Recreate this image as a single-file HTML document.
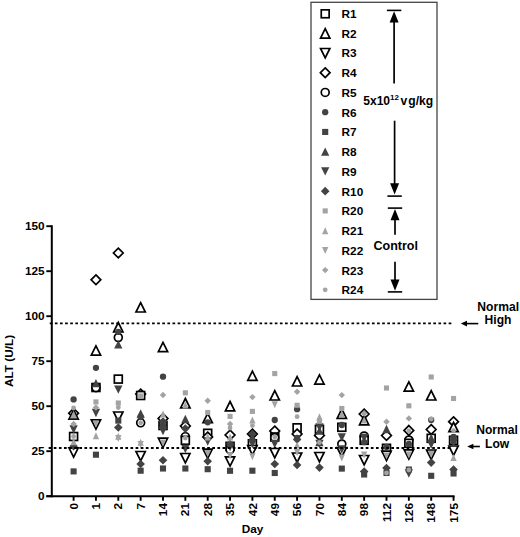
<!DOCTYPE html>
<html><head><meta charset="utf-8"><title>ALT chart</title>
<style>html,body{margin:0;padding:0;background:#fff;width:520px;height:537px;overflow:hidden}svg{display:block}</style>
</head><body>
<svg width="520" height="537" viewBox="0 0 520 537">
<style>
.t{font-family:"Liberation Sans",sans-serif;font-weight:bold;font-size:11.8px;fill:#000}
.t3{font-family:"Liberation Sans",sans-serif;font-weight:bold;font-size:12.1px;fill:#000}
.t2{font-family:"Liberation Sans",sans-serif;font-weight:bold;font-size:12.1px;fill:#000}
</style>
<rect width="520" height="537" fill="#fff"/>
<line x1="51.8" y1="225.2" x2="51.8" y2="497.2" stroke="#000" stroke-width="2"/>
<line x1="46.3" y1="496.2" x2="454.6" y2="496.2" stroke="#000" stroke-width="2"/>
<line x1="46.3" y1="496.2" x2="51.8" y2="496.2" stroke="#000" stroke-width="1.9"/>
<text x="44.6" y="500.3" text-anchor="end" class="t">0</text>
<line x1="46.3" y1="451.2" x2="51.8" y2="451.2" stroke="#000" stroke-width="1.9"/>
<text x="44.6" y="455.3" text-anchor="end" class="t">25</text>
<line x1="46.3" y1="406.2" x2="51.8" y2="406.2" stroke="#000" stroke-width="1.9"/>
<text x="44.6" y="410.3" text-anchor="end" class="t">50</text>
<line x1="46.3" y1="361.2" x2="51.8" y2="361.2" stroke="#000" stroke-width="1.9"/>
<text x="44.6" y="365.3" text-anchor="end" class="t">75</text>
<line x1="46.3" y1="316.2" x2="51.8" y2="316.2" stroke="#000" stroke-width="1.9"/>
<text x="44.6" y="320.3" text-anchor="end" class="t">100</text>
<line x1="46.3" y1="271.2" x2="51.8" y2="271.2" stroke="#000" stroke-width="1.9"/>
<text x="44.6" y="275.3" text-anchor="end" class="t">125</text>
<line x1="46.3" y1="226.2" x2="51.8" y2="226.2" stroke="#000" stroke-width="1.9"/>
<text x="44.6" y="230.3" text-anchor="end" class="t">150</text>
<line x1="73.6" y1="496.2" x2="73.6" y2="500.8" stroke="#000" stroke-width="1.9"/>
<text transform="translate(77.7 503) rotate(-90)" text-anchor="end" class="t">0</text>
<line x1="95.95" y1="496.2" x2="95.95" y2="500.8" stroke="#000" stroke-width="1.9"/>
<text transform="translate(100.05 503) rotate(-90)" text-anchor="end" class="t">1</text>
<line x1="118.3" y1="496.2" x2="118.3" y2="500.8" stroke="#000" stroke-width="1.9"/>
<text transform="translate(122.4 503) rotate(-90)" text-anchor="end" class="t">2</text>
<line x1="140.65" y1="496.2" x2="140.65" y2="500.8" stroke="#000" stroke-width="1.9"/>
<text transform="translate(144.75 503) rotate(-90)" text-anchor="end" class="t">7</text>
<line x1="163" y1="496.2" x2="163" y2="500.8" stroke="#000" stroke-width="1.9"/>
<text transform="translate(167.1 503) rotate(-90)" text-anchor="end" class="t">14</text>
<line x1="185.35" y1="496.2" x2="185.35" y2="500.8" stroke="#000" stroke-width="1.9"/>
<text transform="translate(189.45 503) rotate(-90)" text-anchor="end" class="t">21</text>
<line x1="207.7" y1="496.2" x2="207.7" y2="500.8" stroke="#000" stroke-width="1.9"/>
<text transform="translate(211.8 503) rotate(-90)" text-anchor="end" class="t">28</text>
<line x1="230.05" y1="496.2" x2="230.05" y2="500.8" stroke="#000" stroke-width="1.9"/>
<text transform="translate(234.15 503) rotate(-90)" text-anchor="end" class="t">35</text>
<line x1="252.4" y1="496.2" x2="252.4" y2="500.8" stroke="#000" stroke-width="1.9"/>
<text transform="translate(256.5 503) rotate(-90)" text-anchor="end" class="t">42</text>
<line x1="274.75" y1="496.2" x2="274.75" y2="500.8" stroke="#000" stroke-width="1.9"/>
<text transform="translate(278.85 503) rotate(-90)" text-anchor="end" class="t">49</text>
<line x1="297.1" y1="496.2" x2="297.1" y2="500.8" stroke="#000" stroke-width="1.9"/>
<text transform="translate(301.2 503) rotate(-90)" text-anchor="end" class="t">56</text>
<line x1="319.45" y1="496.2" x2="319.45" y2="500.8" stroke="#000" stroke-width="1.9"/>
<text transform="translate(323.55 503) rotate(-90)" text-anchor="end" class="t">70</text>
<line x1="341.8" y1="496.2" x2="341.8" y2="500.8" stroke="#000" stroke-width="1.9"/>
<text transform="translate(345.9 503) rotate(-90)" text-anchor="end" class="t">84</text>
<line x1="364.15" y1="496.2" x2="364.15" y2="500.8" stroke="#000" stroke-width="1.9"/>
<text transform="translate(368.25 503) rotate(-90)" text-anchor="end" class="t">98</text>
<line x1="386.5" y1="496.2" x2="386.5" y2="500.8" stroke="#000" stroke-width="1.9"/>
<text transform="translate(390.6 503) rotate(-90)" text-anchor="end" class="t">112</text>
<line x1="408.85" y1="496.2" x2="408.85" y2="500.8" stroke="#000" stroke-width="1.9"/>
<text transform="translate(412.95 503) rotate(-90)" text-anchor="end" class="t">126</text>
<line x1="431.2" y1="496.2" x2="431.2" y2="500.8" stroke="#000" stroke-width="1.9"/>
<text transform="translate(435.3 503) rotate(-90)" text-anchor="end" class="t">148</text>
<line x1="453.55" y1="496.2" x2="453.55" y2="500.8" stroke="#000" stroke-width="1.9"/>
<text transform="translate(457.65 503) rotate(-90)" text-anchor="end" class="t">175</text>
<text x="252.5" y="533.2" text-anchor="middle" class="t">Day</text>
<text transform="translate(12.7 361) rotate(-90)" text-anchor="middle" class="t">ALT (U/L)</text>
<path d="M73.6 408.35L78.45 413.2L73.6 418.05L68.75 413.2Z" fill="#fff" stroke="#000" stroke-width="1.7"/>
<path d="M73.6 409.8L78.25 419.1L68.95 419.1Z" fill="#fff" stroke="#000" stroke-width="1.7" stroke-linejoin="miter"/>
<rect x="69.65" y="432.55" width="7.9" height="7.9" fill="#fff" stroke="#000" stroke-width="1.7"/>
<path d="M73.6 457.2L78.25 447.9L68.95 447.9Z" fill="#fff" stroke="#000" stroke-width="1.7"/>
<path d="M95.95 274.95L100.8 279.8L95.95 284.65L91.1 279.8Z" fill="#fff" stroke="#000" stroke-width="1.7"/>
<path d="M95.95 345.8L100.6 355.1L91.3 355.1Z" fill="#fff" stroke="#000" stroke-width="1.7" stroke-linejoin="miter"/>
<rect x="92" y="383.55" width="7.9" height="7.9" fill="#fff" stroke="#000" stroke-width="1.7"/>
<circle cx="95.95" cy="387.6" r="3.95" fill="#fff" stroke="#000" stroke-width="1.7"/>
<path d="M95.95 429.1L100.6 419.8L91.3 419.8Z" fill="#fff" stroke="#000" stroke-width="1.7"/>
<path d="M118.3 248.15L123.15 253L118.3 257.85L113.45 253Z" fill="#fff" stroke="#000" stroke-width="1.7"/>
<path d="M118.3 322.5L122.95 331.8L113.65 331.8Z" fill="#fff" stroke="#000" stroke-width="1.7" stroke-linejoin="miter"/>
<circle cx="118.3" cy="337.5" r="3.95" fill="#fff" stroke="#000" stroke-width="1.7"/>
<rect x="114.35" y="375.15" width="7.9" height="7.9" fill="#fff" stroke="#000" stroke-width="1.7"/>
<path d="M118.3 421.3L122.95 412L113.65 412Z" fill="#fff" stroke="#000" stroke-width="1.7"/>
<path d="M140.65 302.7L145.3 312L136 312Z" fill="#fff" stroke="#000" stroke-width="1.7" stroke-linejoin="miter"/>
<path d="M140.65 389.15L145.5 394L140.65 398.85L135.8 394Z" fill="#fff" stroke="#000" stroke-width="1.7"/>
<rect x="136.7" y="391.55" width="7.9" height="7.9" fill="#fff" stroke="#000" stroke-width="1.7"/>
<circle cx="140.65" cy="422.8" r="3.95" fill="#fff" stroke="#000" stroke-width="1.7"/>
<path d="M140.65 460.8L145.3 451.5L136 451.5Z" fill="#fff" stroke="#000" stroke-width="1.7"/>
<path d="M163 342.3L167.65 351.6L158.35 351.6Z" fill="#fff" stroke="#000" stroke-width="1.7" stroke-linejoin="miter"/>
<path d="M163 413.65L167.85 418.5L163 423.35L158.15 418.5Z" fill="#fff" stroke="#000" stroke-width="1.7"/>
<rect x="159.05" y="421.55" width="7.9" height="7.9" fill="#fff" stroke="#000" stroke-width="1.7"/>
<path d="M163 447.4L167.65 438.1L158.35 438.1Z" fill="#fff" stroke="#000" stroke-width="1.7"/>
<path d="M185.35 398.5L190 407.8L180.7 407.8Z" fill="#fff" stroke="#000" stroke-width="1.7" stroke-linejoin="miter"/>
<path d="M185.35 421.15L190.2 426L185.35 430.85L180.5 426Z" fill="#fff" stroke="#000" stroke-width="1.7"/>
<circle cx="185.35" cy="436.7" r="3.95" fill="#fff" stroke="#000" stroke-width="1.7"/>
<rect x="181.4" y="436.35" width="7.9" height="7.9" fill="#fff" stroke="#000" stroke-width="1.7"/>
<path d="M185.35 462.8L190 453.5L180.7 453.5Z" fill="#fff" stroke="#000" stroke-width="1.7"/>
<path d="M207.7 413.3L212.35 422.6L203.05 422.6Z" fill="#fff" stroke="#000" stroke-width="1.7" stroke-linejoin="miter"/>
<rect x="203.75" y="429.35" width="7.9" height="7.9" fill="#fff" stroke="#000" stroke-width="1.7"/>
<path d="M207.7 432.15L212.55 437L207.7 441.85L202.85 437Z" fill="#fff" stroke="#000" stroke-width="1.7"/>
<path d="M207.7 458.4L212.35 449.1L203.05 449.1Z" fill="#fff" stroke="#000" stroke-width="1.7"/>
<path d="M230.05 401.5L234.7 410.8L225.4 410.8Z" fill="#fff" stroke="#000" stroke-width="1.7" stroke-linejoin="miter"/>
<path d="M230.05 430.15L234.9 435L230.05 439.85L225.2 435Z" fill="#fff" stroke="#000" stroke-width="1.7"/>
<rect x="226.1" y="442.35" width="7.9" height="7.9" fill="#fff" stroke="#000" stroke-width="1.7"/>
<circle cx="230.05" cy="449.5" r="3.95" fill="#fff" stroke="#000" stroke-width="1.7"/>
<path d="M230.05 466.2L234.7 456.9L225.4 456.9Z" fill="#fff" stroke="#000" stroke-width="1.7"/>
<path d="M252.4 371.1L257.05 380.4L247.75 380.4Z" fill="#fff" stroke="#000" stroke-width="1.7" stroke-linejoin="miter"/>
<path d="M252.4 429.15L257.25 434L252.4 438.85L247.55 434Z" fill="#fff" stroke="#000" stroke-width="1.7"/>
<rect x="248.45" y="439.85" width="7.9" height="7.9" fill="#fff" stroke="#000" stroke-width="1.7"/>
<path d="M252.4 454.8L257.05 445.5L247.75 445.5Z" fill="#fff" stroke="#000" stroke-width="1.7"/>
<path d="M274.75 390.7L279.4 400L270.1 400Z" fill="#fff" stroke="#000" stroke-width="1.7" stroke-linejoin="miter"/>
<path d="M274.75 426.15L279.6 431L274.75 435.85L269.9 431Z" fill="#fff" stroke="#000" stroke-width="1.7"/>
<rect x="270.8" y="433.05" width="7.9" height="7.9" fill="#fff" stroke="#000" stroke-width="1.7"/>
<circle cx="274.75" cy="437.5" r="3.95" fill="#fff" stroke="#000" stroke-width="1.7"/>
<path d="M274.75 457.8L279.4 448.5L270.1 448.5Z" fill="#fff" stroke="#000" stroke-width="1.7"/>
<path d="M297.1 376.7L301.75 386L292.45 386Z" fill="#fff" stroke="#000" stroke-width="1.7" stroke-linejoin="miter"/>
<rect x="293.15" y="423.85" width="7.9" height="7.9" fill="#fff" stroke="#000" stroke-width="1.7"/>
<path d="M297.1 429.15L301.95 434L297.1 438.85L292.25 434Z" fill="#fff" stroke="#000" stroke-width="1.7"/>
<path d="M297.1 462.3L301.75 453L292.45 453Z" fill="#fff" stroke="#000" stroke-width="1.7"/>
<path d="M319.45 374.8L324.1 384.1L314.8 384.1Z" fill="#fff" stroke="#000" stroke-width="1.7" stroke-linejoin="miter"/>
<rect x="315.5" y="425.35" width="7.9" height="7.9" fill="#fff" stroke="#000" stroke-width="1.7"/>
<path d="M319.45 430.65L324.3 435.5L319.45 440.35L314.6 435.5Z" fill="#fff" stroke="#000" stroke-width="1.7"/>
<path d="M319.45 461.8L324.1 452.5L314.8 452.5Z" fill="#fff" stroke="#000" stroke-width="1.7"/>
<path d="M341.8 409L346.45 418.3L337.15 418.3Z" fill="#fff" stroke="#000" stroke-width="1.7" stroke-linejoin="miter"/>
<rect x="337.85" y="423.35" width="7.9" height="7.9" fill="#fff" stroke="#000" stroke-width="1.7"/>
<circle cx="341.8" cy="444" r="3.95" fill="#fff" stroke="#000" stroke-width="1.7"/>
<path d="M341.8 456.8L346.45 447.5L337.15 447.5Z" fill="#fff" stroke="#000" stroke-width="1.7"/>
<path d="M364.15 409.15L369 414L364.15 418.85L359.3 414Z" fill="#fff" stroke="#000" stroke-width="1.7"/>
<path d="M364.15 415.5L368.8 424.8L359.5 424.8Z" fill="#fff" stroke="#000" stroke-width="1.7" stroke-linejoin="miter"/>
<circle cx="364.15" cy="436" r="3.95" fill="#fff" stroke="#000" stroke-width="1.7"/>
<rect x="360.2" y="436.35" width="7.9" height="7.9" fill="#fff" stroke="#000" stroke-width="1.7"/>
<path d="M364.15 464.8L368.8 455.5L359.5 455.5Z" fill="#fff" stroke="#000" stroke-width="1.7"/>
<path d="M386.5 430.65L391.35 435.5L386.5 440.35L381.65 435.5Z" fill="#fff" stroke="#000" stroke-width="1.7"/>
<rect x="382.55" y="444.35" width="7.9" height="7.9" fill="#fff" stroke="#000" stroke-width="1.7"/>
<path d="M386.5 460.5L391.15 451.2L381.85 451.2Z" fill="#fff" stroke="#000" stroke-width="1.7"/>
<path d="M408.85 381.8L413.5 391.1L404.2 391.1Z" fill="#fff" stroke="#000" stroke-width="1.7" stroke-linejoin="miter"/>
<path d="M408.85 425.55L413.7 430.4L408.85 435.25L404 430.4Z" fill="#fff" stroke="#000" stroke-width="1.7"/>
<circle cx="408.85" cy="440" r="3.95" fill="#fff" stroke="#000" stroke-width="1.7"/>
<rect x="404.9" y="439.35" width="7.9" height="7.9" fill="#fff" stroke="#000" stroke-width="1.7"/>
<path d="M408.85 459.2L413.5 449.9L404.2 449.9Z" fill="#fff" stroke="#000" stroke-width="1.7"/>
<path d="M431.2 390.7L435.85 400L426.55 400Z" fill="#fff" stroke="#000" stroke-width="1.7" stroke-linejoin="miter"/>
<path d="M431.2 424.65L436.05 429.5L431.2 434.35L426.35 429.5Z" fill="#fff" stroke="#000" stroke-width="1.7"/>
<rect x="427.25" y="434.35" width="7.9" height="7.9" fill="#fff" stroke="#000" stroke-width="1.7"/>
<path d="M431.2 459.3L435.85 450L426.55 450Z" fill="#fff" stroke="#000" stroke-width="1.7"/>
<path d="M453.55 416.85L458.4 421.7L453.55 426.55L448.7 421.7Z" fill="#fff" stroke="#000" stroke-width="1.7"/>
<path d="M453.55 422.3L458.2 431.6L448.9 431.6Z" fill="#fff" stroke="#000" stroke-width="1.7" stroke-linejoin="miter"/>
<rect x="449.6" y="436.35" width="7.9" height="7.9" fill="#fff" stroke="#000" stroke-width="1.7"/>
<path d="M453.55 455.3L458.2 446L448.9 446Z" fill="#fff" stroke="#000" stroke-width="1.7"/>
<circle cx="73.6" cy="399.4" r="3.15" fill="#434343"/>
<path d="M73.6 433.65L77.75 425.35L69.45 425.35Z" fill="#434343"/>
<path d="M73.6 410.85L77.75 419.15L69.45 419.15Z" fill="#434343"/>
<path d="M73.6 442L77.9 446.3L73.6 450.6L69.3 446.3Z" fill="#434343"/>
<rect x="70.55" y="468.35" width="6.1" height="6.1" fill="#434343"/>
<circle cx="95.95" cy="367.8" r="3.15" fill="#434343"/>
<path d="M95.95 379.05L100.1 387.35L91.8 387.35Z" fill="#434343"/>
<path d="M95.95 417.15L100.1 408.85L91.8 408.85Z" fill="#434343"/>
<rect x="92.9" y="451.65" width="6.1" height="6.1" fill="#434343"/>
<circle cx="118.3" cy="331.9" r="3.15" fill="#434343"/>
<path d="M118.3 340.25L122.45 348.55L114.15 348.55Z" fill="#434343"/>
<path d="M118.3 393.75L122.45 385.45L114.15 385.45Z" fill="#434343"/>
<rect x="115.25" y="417.55" width="6.1" height="6.1" fill="#434343"/>
<path d="M118.3 423.2L122.6 427.5L118.3 431.8L114 427.5Z" fill="#434343"/>
<path d="M140.65 409.35L144.8 417.65L136.5 417.65Z" fill="#434343"/>
<circle cx="140.65" cy="417" r="3.15" fill="#434343"/>
<path d="M140.65 459.7L144.95 464L140.65 468.3L136.35 464Z" fill="#434343"/>
<rect x="137.6" y="467.65" width="6.1" height="6.1" fill="#434343"/>
<circle cx="163" cy="376.7" r="3.15" fill="#434343"/>
<circle cx="163" cy="425" r="3.15" fill="#434343"/>
<path d="M163 417.2L167.3 421.5L163 425.8L158.7 421.5Z" fill="#434343"/>
<path d="M163 435.15L167.15 426.85L158.85 426.85Z" fill="#434343"/>
<path d="M163 423.7L167.3 428L163 432.3L158.7 428Z" fill="#434343"/>
<path d="M163 455.9L167.3 460.2L163 464.5L158.7 460.2Z" fill="#434343"/>
<rect x="159.95" y="465.45" width="6.1" height="6.1" fill="#434343"/>
<path d="M185.35 414.85L189.5 423.15L181.2 423.15Z" fill="#434343"/>
<path d="M185.35 424.3L189.65 428.6L185.35 432.9L181.05 428.6Z" fill="#434343"/>
<path d="M185.35 453.15L189.5 444.85L181.2 444.85Z" fill="#434343"/>
<rect x="182.3" y="465.45" width="6.1" height="6.1" fill="#434343"/>
<circle cx="207.7" cy="422.3" r="3.15" fill="#434343"/>
<path d="M207.7 445.65L211.85 437.35L203.55 437.35Z" fill="#434343"/>
<path d="M207.7 456.9L212 461.2L207.7 465.5L203.4 461.2Z" fill="#434343"/>
<rect x="204.65" y="466.15" width="6.1" height="6.1" fill="#434343"/>
<circle cx="230.05" cy="444.5" r="3.15" fill="#434343"/>
<path d="M230.05 451.15L234.2 442.85L225.9 442.85Z" fill="#434343"/>
<rect x="227" y="467.75" width="6.1" height="6.1" fill="#434343"/>
<path d="M252.4 429.7L256.7 434L252.4 438.3L248.1 434Z" fill="#434343"/>
<circle cx="252.4" cy="440" r="3.15" fill="#434343"/>
<path d="M252.4 448.15L256.55 439.85L248.25 439.85Z" fill="#434343"/>
<rect x="249.35" y="467.65" width="6.1" height="6.1" fill="#434343"/>
<circle cx="274.75" cy="420" r="3.15" fill="#434343"/>
<path d="M274.75 448.15L278.9 439.85L270.6 439.85Z" fill="#434343"/>
<path d="M274.75 459.7L279.05 464L274.75 468.3L270.45 464Z" fill="#434343"/>
<rect x="271.7" y="469.95" width="6.1" height="6.1" fill="#434343"/>
<circle cx="297.1" cy="409.2" r="3.15" fill="#434343"/>
<circle cx="297.1" cy="438" r="3.15" fill="#434343"/>
<path d="M297.1 435.2L301.4 439.5L297.1 443.8L292.8 439.5Z" fill="#434343"/>
<path d="M297.1 460.7L301.4 465L297.1 469.3L292.8 465Z" fill="#434343"/>
<path d="M319.45 431.45L323.6 423.15L315.3 423.15Z" fill="#434343"/>
<path d="M319.45 426.55L323.6 434.85L315.3 434.85Z" fill="#434343"/>
<path d="M319.45 437.85L323.6 446.15L315.3 446.15Z" fill="#434343"/>
<path d="M319.45 448.15L323.6 439.85L315.3 439.85Z" fill="#434343"/>
<path d="M319.45 463.3L323.75 467.6L319.45 471.9L315.15 467.6Z" fill="#434343"/>
<circle cx="341.8" cy="425" r="3.15" fill="#434343"/>
<path d="M341.8 441.65L345.95 433.35L337.65 433.35Z" fill="#434343"/>
<path d="M341.8 453.65L345.95 445.35L337.65 445.35Z" fill="#434343"/>
<rect x="338.75" y="465.55" width="6.1" height="6.1" fill="#434343"/>
<path d="M364.15 442.15L368.3 433.85L360 433.85Z" fill="#434343"/>
<circle cx="364.15" cy="442.2" r="3.15" fill="#434343"/>
<path d="M364.15 467.2L368.45 471.5L364.15 475.8L359.85 471.5Z" fill="#434343"/>
<rect x="361.1" y="471.45" width="6.1" height="6.1" fill="#434343"/>
<path d="M386.5 424.85L390.65 433.15L382.35 433.15Z" fill="#434343"/>
<circle cx="386.5" cy="447" r="3.15" fill="#434343"/>
<path d="M386.5 463.7L390.8 468L386.5 472.3L382.2 468Z" fill="#434343"/>
<rect x="383.45" y="469.95" width="6.1" height="6.1" fill="#434343"/>
<circle cx="408.85" cy="444" r="3.15" fill="#434343"/>
<rect x="405.8" y="466.45" width="6.1" height="6.1" fill="#434343"/>
<path d="M408.85 477.65L413 469.35L404.7 469.35Z" fill="#434343"/>
<circle cx="431.2" cy="420" r="3.15" fill="#434343"/>
<path d="M431.2 433.85L435.35 442.15L427.05 442.15Z" fill="#434343"/>
<path d="M431.2 448.65L435.35 440.35L427.05 440.35Z" fill="#434343"/>
<path d="M431.2 458.3L435.5 462.6L431.2 466.9L426.9 462.6Z" fill="#434343"/>
<rect x="428.15" y="472.75" width="6.1" height="6.1" fill="#434343"/>
<circle cx="453.55" cy="437" r="3.15" fill="#434343"/>
<rect x="450.5" y="437.45" width="6.1" height="6.1" fill="#434343"/>
<path d="M453.55 447.15L457.7 438.85L449.4 438.85Z" fill="#434343"/>
<path d="M453.55 465.2L457.85 469.5L453.55 473.8L449.25 469.5Z" fill="#434343"/>
<rect x="450.5" y="470.45" width="6.1" height="6.1" fill="#434343"/>
<circle cx="73.6" cy="408" r="2.4" fill="#a3a3a3"/>
<path d="M73.6 411.1L76.75 418.1L70.45 418.1Z" fill="#a3a3a3"/>
<path d="M73.6 420.77L76.82 424L73.6 427.23L70.38 424Z" fill="#a3a3a3"/>
<circle cx="73.6" cy="436.5" r="2.4" fill="#a3a3a3"/>
<path d="M73.6 438.3L76.75 445.3L70.45 445.3Z" fill="#a3a3a3"/>
<rect x="93.4" y="399.35" width="5.1" height="5.1" fill="#a3a3a3"/>
<path d="M95.95 404.27L99.17 407.5L95.95 410.73L92.72 407.5Z" fill="#a3a3a3"/>
<path d="M95.95 427.5L99.1 420.5L92.8 420.5Z" fill="#a3a3a3"/>
<path d="M95.95 432.2L99.1 439.2L92.8 439.2Z" fill="#a3a3a3"/>
<rect x="115.75" y="400.45" width="5.1" height="5.1" fill="#a3a3a3"/>
<circle cx="118.3" cy="407.5" r="2.4" fill="#a3a3a3"/>
<path d="M118.3 432.73L121.45 439.73L115.15 439.73ZM118.3 442.07L115.15 435.07L121.45 435.07Z" fill="#a3a3a3"/>
<rect x="138.1" y="393.45" width="5.1" height="5.1" fill="#a3a3a3"/>
<circle cx="140.65" cy="422.8" r="2.4" fill="#a3a3a3"/>
<path d="M140.65 438.73L143.8 445.73L137.5 445.73ZM140.65 448.07L137.5 441.07L143.8 441.07Z" fill="#a3a3a3"/>
<path d="M163 391.77L166.22 395L163 398.23L159.78 395Z" fill="#a3a3a3"/>
<path d="M163 410.5L166.15 417.5L159.85 417.5Z" fill="#a3a3a3"/>
<path d="M163 446.5L166.15 439.5L159.85 439.5Z" fill="#a3a3a3"/>
<rect x="182.8" y="390.25" width="5.1" height="5.1" fill="#a3a3a3"/>
<path d="M185.35 401.5L188.5 408.5L182.2 408.5Z" fill="#a3a3a3"/>
<circle cx="185.35" cy="438" r="2.4" fill="#a3a3a3"/>
<path d="M207.7 397.47L210.93 400.7L207.7 403.93L204.48 400.7Z" fill="#a3a3a3"/>
<rect x="205.15" y="409.95" width="5.1" height="5.1" fill="#a3a3a3"/>
<path d="M207.7 433.5L210.85 440.5L204.55 440.5Z" fill="#a3a3a3"/>
<path d="M207.7 457.1L210.85 450.1L204.55 450.1Z" fill="#a3a3a3"/>
<rect x="227.5" y="413.85" width="5.1" height="5.1" fill="#a3a3a3"/>
<path d="M230.05 420.77L233.28 424L230.05 427.23L226.83 424Z" fill="#a3a3a3"/>
<circle cx="230.05" cy="428" r="2.4" fill="#a3a3a3"/>
<path d="M230.05 433.5L233.2 440.5L226.9 440.5Z" fill="#a3a3a3"/>
<path d="M230.05 459.3L233.2 452.3L226.9 452.3Z" fill="#a3a3a3"/>
<path d="M252.4 393.88L255.62 397.1L252.4 400.33L249.18 397.1Z" fill="#a3a3a3"/>
<rect x="249.85" y="408.85" width="5.1" height="5.1" fill="#a3a3a3"/>
<path d="M252.4 416.5L255.55 423.5L249.25 423.5Z" fill="#a3a3a3"/>
<circle cx="252.4" cy="425.6" r="2.4" fill="#a3a3a3"/>
<path d="M252.4 460.3L255.55 453.3L249.25 453.3Z" fill="#a3a3a3"/>
<rect x="272.2" y="371.05" width="5.1" height="5.1" fill="#a3a3a3"/>
<path d="M274.75 408.2L277.9 401.2L271.6 401.2Z" fill="#a3a3a3"/>
<circle cx="274.75" cy="437" r="2.4" fill="#a3a3a3"/>
<path d="M297.1 388.57L300.33 391.8L297.1 395.03L293.88 391.8Z" fill="#a3a3a3"/>
<rect x="294.55" y="402.75" width="5.1" height="5.1" fill="#a3a3a3"/>
<circle cx="297.1" cy="416.7" r="2.4" fill="#a3a3a3"/>
<path d="M297.1 441.5L300.25 448.5L293.95 448.5Z" fill="#a3a3a3"/>
<path d="M297.1 456L300.25 449L293.95 449Z" fill="#a3a3a3"/>
<path d="M319.45 413.2L322.6 420.2L316.3 420.2Z" fill="#a3a3a3"/>
<rect x="316.9" y="418.65" width="5.1" height="5.1" fill="#a3a3a3"/>
<circle cx="319.45" cy="442.5" r="2.4" fill="#a3a3a3"/>
<path d="M341.8 391.88L345.03 395.1L341.8 398.33L338.58 395.1Z" fill="#a3a3a3"/>
<rect x="339.25" y="405.95" width="5.1" height="5.1" fill="#a3a3a3"/>
<path d="M341.8 410.5L344.95 417.5L338.65 417.5Z" fill="#a3a3a3"/>
<path d="M341.8 461.5L344.95 454.5L338.65 454.5Z" fill="#a3a3a3"/>
<path d="M364.15 416.5L367.3 423.5L361 423.5Z" fill="#a3a3a3"/>
<path d="M364.15 410.27L367.38 413.5L364.15 416.73L360.92 413.5Z" fill="#a3a3a3"/>
<path d="M364.15 458.5L367.3 451.5L361 451.5Z" fill="#a3a3a3"/>
<rect x="383.95" y="385.45" width="5.1" height="5.1" fill="#a3a3a3"/>
<path d="M386.5 418.47L389.73 421.7L386.5 424.93L383.27 421.7Z" fill="#a3a3a3"/>
<path d="M386.5 459.5L389.65 452.5L383.35 452.5Z" fill="#a3a3a3"/>
<circle cx="386.5" cy="473" r="2.4" fill="#a3a3a3"/>
<rect x="406.3" y="403.25" width="5.1" height="5.1" fill="#a3a3a3"/>
<path d="M408.85 415.17L412.08 418.4L408.85 421.62L405.62 418.4Z" fill="#a3a3a3"/>
<circle cx="408.85" cy="431" r="2.4" fill="#a3a3a3"/>
<path d="M408.85 458.5L412 451.5L405.7 451.5Z" fill="#a3a3a3"/>
<circle cx="408.85" cy="470" r="2.4" fill="#a3a3a3"/>
<rect x="428.65" y="374.45" width="5.1" height="5.1" fill="#a3a3a3"/>
<circle cx="431.2" cy="419" r="2.4" fill="#a3a3a3"/>
<path d="M431.2 458L434.35 451L428.05 451Z" fill="#a3a3a3"/>
<rect x="451" y="395.95" width="5.1" height="5.1" fill="#a3a3a3"/>
<circle cx="453.55" cy="430.7" r="2.4" fill="#a3a3a3"/>
<path d="M453.55 454L456.7 461L450.4 461Z" fill="#a3a3a3"/>
<line x1="49.75" y1="323.4" x2="452" y2="323.4" stroke="#000" stroke-width="1.8" stroke-dasharray="2.7 2.414"/>
<line x1="48.65" y1="448.0" x2="452" y2="448.0" stroke="#000" stroke-width="1.8" stroke-dasharray="2.7 2.414"/>
<line x1="464.8" y1="323.6" x2="478.3" y2="323.6" stroke="#000" stroke-width="1.6"/><path d="M460.8 323.6L467 320.8L467 326.4Z" fill="#000"/>
<line x1="471.2" y1="446.5" x2="479.9" y2="446.5" stroke="#000" stroke-width="1.6"/><path d="M467.2 446.5L473.4 443.7L473.4 449.3Z" fill="#000"/>
<text x="498.2" y="310.6" text-anchor="middle" class="t3">Normal</text>
<text x="498" y="324.1" text-anchor="middle" class="t3">High</text>
<text x="497" y="433.9" text-anchor="middle" class="t3">Normal</text>
<text x="497.1" y="447.5" text-anchor="middle" class="t3">Low</text>
<rect x="311" y="2.3" width="126" height="297.1" fill="#fff" stroke="#444" stroke-width="1.3"/>
<rect x="321.25" y="9.85" width="7.9" height="7.9" fill="#fff" stroke="#000" stroke-width="1.7"/>
<text x="341.6" y="17.9" class="t">R1</text>
<path d="M325.2 28.74L329.85 38.04L320.55 38.04Z" fill="#fff" stroke="#000" stroke-width="1.7" stroke-linejoin="miter"/>
<text x="341.6" y="37.64" class="t">R2</text>
<path d="M325.2 57.78L329.85 48.48L320.55 48.48Z" fill="#fff" stroke="#000" stroke-width="1.7"/>
<text x="341.6" y="57.38" class="t">R3</text>
<path d="M325.2 67.87L330.05 72.72L325.2 77.57L320.35 72.72Z" fill="#fff" stroke="#000" stroke-width="1.7"/>
<text x="341.6" y="77.12" class="t">R4</text>
<circle cx="325.2" cy="92.46" r="3.95" fill="#fff" stroke="#000" stroke-width="1.7"/>
<text x="341.6" y="96.86" class="t">R5</text>
<circle cx="325.2" cy="112.2" r="3.15" fill="#434343"/>
<text x="341.6" y="116.6" class="t">R6</text>
<rect x="322.15" y="128.89" width="6.1" height="6.1" fill="#434343"/>
<text x="341.6" y="136.34" class="t">R7</text>
<path d="M325.2 147.53L329.35 155.83L321.05 155.83Z" fill="#434343"/>
<text x="341.6" y="156.08" class="t">R8</text>
<path d="M325.2 175.57L329.35 167.27L321.05 167.27Z" fill="#434343"/>
<text x="341.6" y="175.82" class="t">R9</text>
<path d="M325.2 186.86L329.5 191.16L325.2 195.46L320.9 191.16Z" fill="#434343"/>
<text x="341.6" y="195.56" class="t">R10</text>
<rect x="322.65" y="208.35" width="5.1" height="5.1" fill="#a3a3a3"/>
<text x="341.6" y="215.3" class="t">R20</text>
<path d="M325.2 227.14L328.35 234.14L322.05 234.14Z" fill="#a3a3a3"/>
<text x="341.6" y="235.04" class="t">R21</text>
<path d="M325.2 253.88L328.35 246.88L322.05 246.88Z" fill="#a3a3a3"/>
<text x="341.6" y="254.78" class="t">R22</text>
<path d="M325.2 266.89L328.43 270.12L325.2 273.35L321.97 270.12Z" fill="#a3a3a3"/>
<text x="341.6" y="274.52" class="t">R23</text>
<circle cx="325.2" cy="289.86" r="2.4" fill="#a3a3a3"/>
<text x="341.6" y="294.26" class="t">R24</text>
<line x1="386.9" y1="10.4" x2="401.3" y2="10.4" stroke="#000" stroke-width="1.6"/>
<path d="M394.1 11.2L398.6 22.5L389.6 22.5Z" fill="#000"/>
<line x1="394.1" y1="20" x2="394.1" y2="83.5" stroke="#000" stroke-width="1.7"/>
<line x1="394.6" y1="120.7" x2="394.6" y2="186" stroke="#000" stroke-width="1.7"/>
<path d="M394.6 194.6L399.1 183.3L390.1 183.3Z" fill="#000"/>
<line x1="387.4" y1="196.1" x2="401.8" y2="196.1" stroke="#000" stroke-width="1.6"/>
<text x="363.2" y="104.8" class="t2">5x10<tspan font-size="8" dy="-4.6">12</tspan><tspan dy="4.6" dx="1.4">v</tspan><tspan dx="1.2">g/kg</tspan></text>
<line x1="387.8" y1="208.1" x2="402.2" y2="208.1" stroke="#000" stroke-width="1.6"/>
<path d="M395 208.9L399.5 220.2L390.5 220.2Z" fill="#000"/>
<line x1="395" y1="218" x2="395" y2="234.8" stroke="#000" stroke-width="1.7"/>
<text x="395.7" y="250.4" text-anchor="middle" class="t2" style="font-size:12.5px">Control</text>
<line x1="395" y1="261.7" x2="395" y2="282" stroke="#000" stroke-width="1.7"/>
<path d="M395 290.8L399.5 279.5L390.5 279.5Z" fill="#000"/>
<line x1="387.8" y1="291.9" x2="402.2" y2="291.9" stroke="#000" stroke-width="1.6"/>
</svg>
</body></html>
